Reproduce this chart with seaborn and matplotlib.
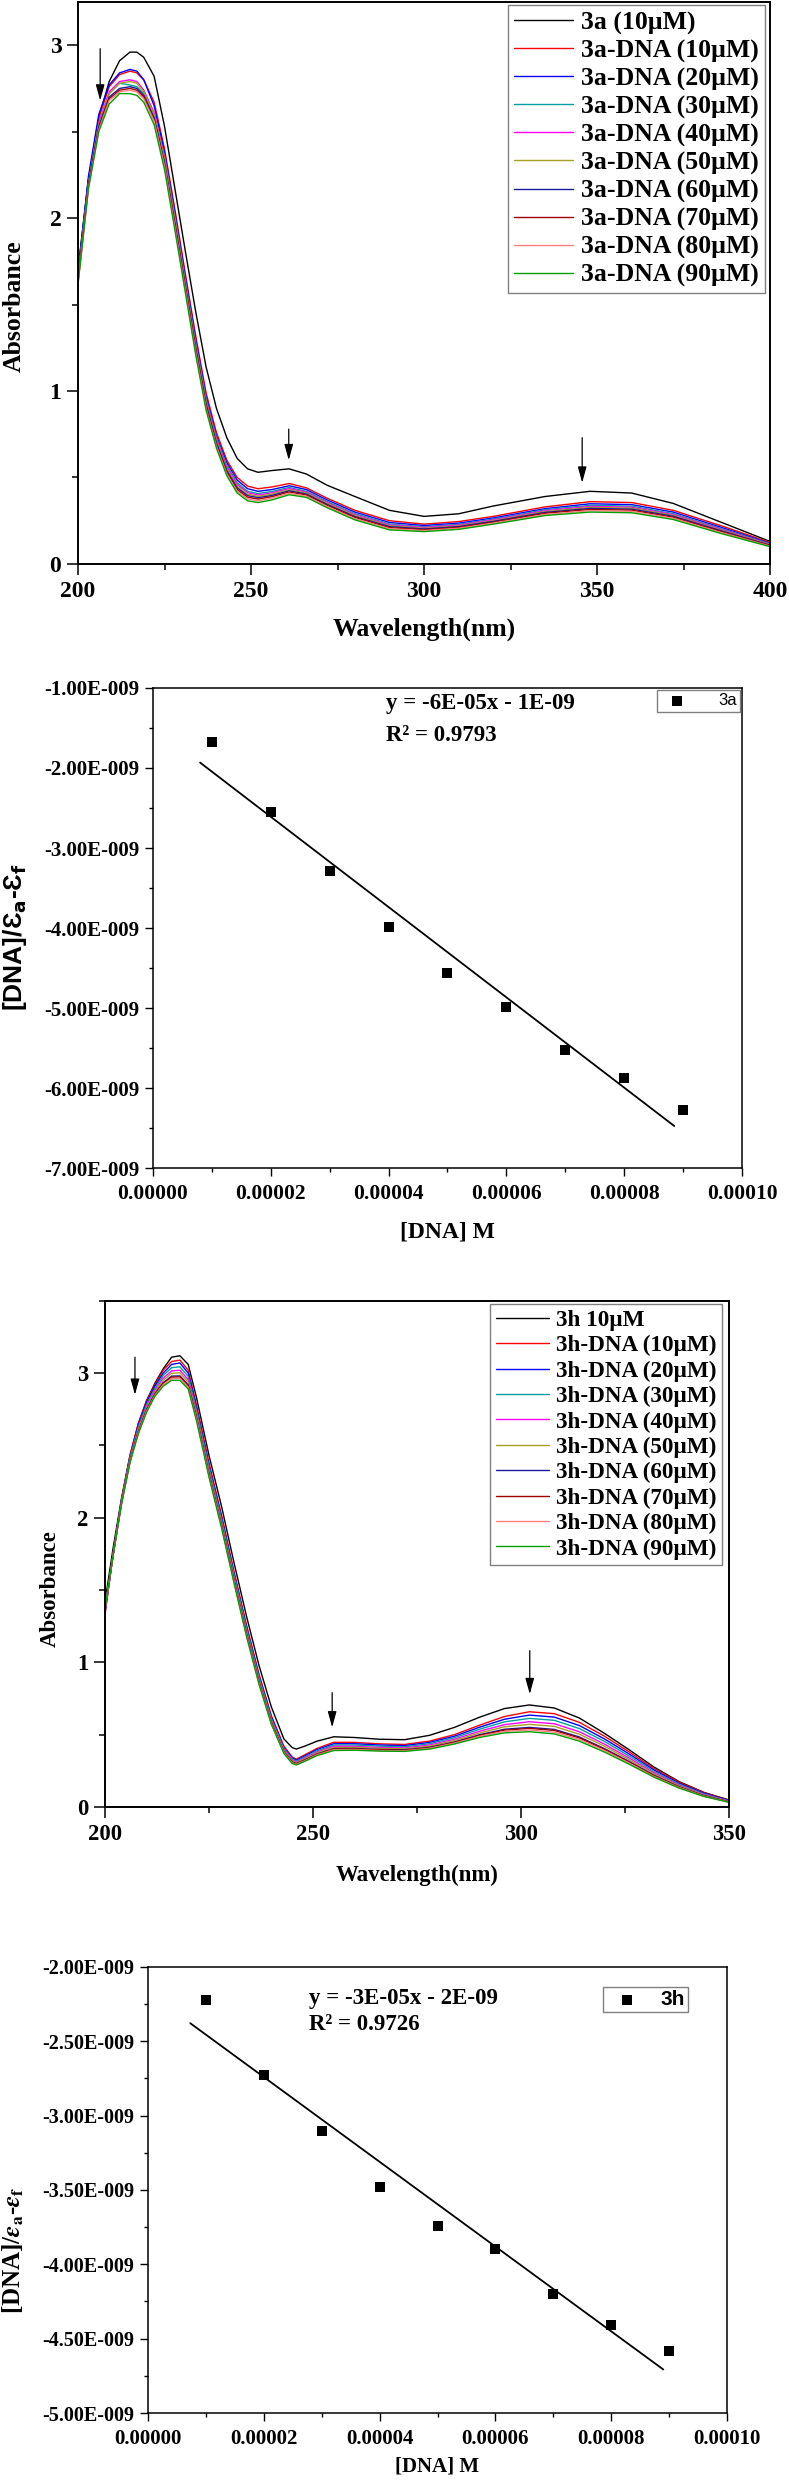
import numpy as np
import seaborn as sns
import matplotlib.pyplot as plt
from matplotlib.ticker import MultipleLocator, FuncFormatter

# ---- 3a titration spectra (absorbance) ----
wl_3a = [200, 203, 206, 209, 212, 215, 217, 219, 222, 225, 228, 231, 234, 237, 240, 243, 246,
         249, 252, 256, 261, 266, 272, 280, 290, 300, 310, 320, 335, 348, 360, 372, 386, 400]
a3_free = [1.70, 2.22, 2.58, 2.79, 2.91, 2.96, 2.96, 2.93, 2.82, 2.53, 2.17, 1.81, 1.46, 1.14, 0.90, 0.73, 0.61,
           0.55, 0.53, 0.54, 0.55, 0.52, 0.455, 0.39, 0.31, 0.275, 0.29, 0.335, 0.39, 0.42, 0.41, 0.35, 0.24, 0.13]
a3_dna10 = [1.68, 2.22, 2.58, 2.76, 2.83, 2.85, 2.84, 2.80, 2.67, 2.40, 2.05, 1.68, 1.32, 0.99, 0.76, 0.60, 0.50,
            0.45, 0.435, 0.445, 0.465, 0.44, 0.38, 0.31, 0.25, 0.23, 0.245, 0.275, 0.33, 0.36, 0.355, 0.31, 0.22, 0.124]
a3_dna20 = [1.69, 2.24, 2.60, 2.77, 2.84, 2.86, 2.85, 2.80, 2.65, 2.38, 2.03, 1.66, 1.30, 0.97, 0.74, 0.585, 0.485,
            0.435, 0.42, 0.43, 0.452, 0.43, 0.37, 0.30, 0.24, 0.222, 0.236, 0.266, 0.32, 0.348, 0.343, 0.30, 0.211, 0.119]
a3_dna30 = [1.66, 2.20, 2.55, 2.72, 2.78, 2.77, 2.76, 2.72, 2.60, 2.36, 2.01, 1.64, 1.28, 0.955, 0.73, 0.57, 0.47,
            0.42, 0.407, 0.419, 0.442, 0.42, 0.361, 0.291, 0.231, 0.215, 0.229, 0.259, 0.313, 0.339, 0.334, 0.291, 0.204, 0.116]
a3_dna40 = [1.65, 2.20, 2.55, 2.73, 2.79, 2.80, 2.79, 2.74, 2.61, 2.35, 2.00, 1.63, 1.27, 0.945, 0.72, 0.56, 0.46,
            0.412, 0.399, 0.411, 0.436, 0.415, 0.355, 0.285, 0.226, 0.211, 0.225, 0.255, 0.308, 0.333, 0.328, 0.286, 0.20, 0.113]
a3_dna50 = [1.65, 2.19, 2.54, 2.72, 2.78, 2.79, 2.78, 2.73, 2.60, 2.34, 1.99, 1.62, 1.26, 0.935, 0.71, 0.55, 0.45,
            0.403, 0.391, 0.404, 0.429, 0.41, 0.35, 0.28, 0.221, 0.206, 0.22, 0.25, 0.303, 0.327, 0.323, 0.281, 0.195, 0.111]
a3_dna60 = [1.64, 2.19, 2.53, 2.70, 2.75, 2.76, 2.75, 2.71, 2.58, 2.32, 1.97, 1.61, 1.25, 0.925, 0.70, 0.54, 0.44,
            0.395, 0.383, 0.396, 0.423, 0.404, 0.344, 0.274, 0.216, 0.202, 0.216, 0.246, 0.298, 0.321, 0.317, 0.276, 0.191, 0.108]
a3_dna70 = [1.63, 2.18, 2.52, 2.69, 2.74, 2.75, 2.74, 2.70, 2.57, 2.31, 1.96, 1.60, 1.24, 0.915, 0.69, 0.53, 0.43,
            0.386, 0.375, 0.389, 0.416, 0.399, 0.339, 0.269, 0.21, 0.198, 0.211, 0.241, 0.293, 0.315, 0.311, 0.27, 0.186, 0.106]
a3_dna80 = [1.62, 2.17, 2.51, 2.68, 2.73, 2.74, 2.73, 2.69, 2.56, 2.30, 1.945, 1.585, 1.225, 0.90, 0.68, 0.52, 0.42,
            0.376, 0.365, 0.38, 0.408, 0.392, 0.332, 0.262, 0.204, 0.193, 0.206, 0.236, 0.286, 0.308, 0.304, 0.264, 0.181, 0.103]
a3_dna90 = [1.62, 2.17, 2.50, 2.66, 2.72, 2.72, 2.71, 2.67, 2.54, 2.28, 1.93, 1.57, 1.21, 0.89, 0.67, 0.51, 0.41,
            0.365, 0.355, 0.37, 0.40, 0.385, 0.325, 0.255, 0.197, 0.187, 0.20, 0.23, 0.28, 0.30, 0.296, 0.257, 0.175, 0.10]
labels_3a = ["3a (10µM)", "3a-DNA (10µM)", "3a-DNA (20µM)", "3a-DNA (30µM)", "3a-DNA (40µM)",
             "3a-DNA (50µM)", "3a-DNA (60µM)", "3a-DNA (70µM)", "3a-DNA (80µM)", "3a-DNA (90µM)"]
arrows_3a = [(206.4, 2.98, 2.68), (260.9, 0.78, 0.60), (345.7, 0.73, 0.47)]

# ---- 3h titration spectra ----
wl_3h = [200, 202, 204, 206, 208, 210, 212, 214, 216, 218, 220, 222, 225, 228, 231, 234, 237, 240, 243, 245,
         246, 248, 251, 255, 260, 266, 272, 278, 284, 290, 296, 302, 308, 314, 320, 326, 332, 338, 344, 350]
h3_free = [1.42, 1.80, 2.14, 2.43, 2.65, 2.81, 2.93, 3.03, 3.11, 3.12, 3.06, 2.83, 2.43, 2.08, 1.69, 1.32, 0.98, 0.69, 0.47, 0.41,
           0.40, 0.42, 0.455, 0.485, 0.48, 0.468, 0.465, 0.495, 0.55, 0.62, 0.68, 0.705, 0.684, 0.615, 0.51, 0.395, 0.275, 0.175, 0.10, 0.048]
h3_dna10 = [1.33, 1.76, 2.13, 2.43, 2.65, 2.81, 2.92, 3.02, 3.08, 3.09, 3.02, 2.78, 2.38, 2.02, 1.63, 1.26, 0.92, 0.63, 0.42, 0.345,
            0.33, 0.36, 0.405, 0.447, 0.446, 0.436, 0.432, 0.455, 0.50, 0.565, 0.625, 0.658, 0.645, 0.585, 0.49, 0.38, 0.265, 0.17, 0.098, 0.045]
h3_dna20 = [1.34, 1.76, 2.125, 2.42, 2.64, 2.80, 2.91, 3.00, 3.06, 3.07, 3.00, 2.76, 2.36, 2.005, 1.616, 1.246, 0.908, 0.62, 0.41, 0.337,
            0.323, 0.352, 0.397, 0.437, 0.437, 0.428, 0.424, 0.446, 0.489, 0.551, 0.606, 0.635, 0.621, 0.563, 0.471, 0.366, 0.255, 0.163, 0.094, 0.043]
h3_dna30 = [1.35, 1.757, 2.12, 2.413, 2.627, 2.784, 2.894, 2.984, 3.037, 3.044, 2.977, 2.744, 2.347, 1.99, 1.604, 1.234, 0.897, 0.61, 0.404, 0.33,
            0.317, 0.345, 0.389, 0.428, 0.428, 0.42, 0.416, 0.437, 0.479, 0.537, 0.588, 0.612, 0.599, 0.542, 0.454, 0.352, 0.245, 0.157, 0.089, 0.041]
h3_dna40 = [1.355, 1.755, 2.115, 2.405, 2.615, 2.77, 2.88, 2.965, 3.015, 3.02, 2.955, 2.725, 2.33, 1.975, 1.59, 1.22, 0.885, 0.60, 0.395, 0.323,
            0.31, 0.338, 0.38, 0.419, 0.419, 0.411, 0.408, 0.428, 0.468, 0.523, 0.569, 0.589, 0.575, 0.52, 0.435, 0.338, 0.235, 0.15, 0.085, 0.039]
h3_dna50 = [1.36, 1.754, 2.111, 2.399, 2.606, 2.76, 2.87, 2.951, 2.998, 3.002, 2.938, 2.711, 2.317, 1.963, 1.58, 1.21, 0.876, 0.592, 0.388, 0.317,
            0.305, 0.332, 0.374, 0.411, 0.412, 0.405, 0.402, 0.42, 0.459, 0.511, 0.554, 0.571, 0.557, 0.503, 0.421, 0.326, 0.227, 0.145, 0.082, 0.037]
h3_dna60 = [1.37, 1.752, 2.107, 2.391, 2.595, 2.748, 2.858, 2.934, 2.979, 2.981, 2.919, 2.694, 2.302, 1.95, 1.568, 1.198, 0.865, 0.583, 0.381, 0.31,
            0.299, 0.325, 0.366, 0.403, 0.404, 0.397, 0.395, 0.412, 0.449, 0.499, 0.537, 0.55, 0.536, 0.484, 0.404, 0.314, 0.218, 0.139, 0.078, 0.035]
h3_dna70 = [1.37, 1.752, 2.105, 2.389, 2.592, 2.744, 2.854, 2.929, 2.972, 2.974, 2.912, 2.689, 2.297, 1.945, 1.564, 1.194, 0.862, 0.58, 0.379, 0.308,
            0.297, 0.323, 0.364, 0.40, 0.401, 0.395, 0.392, 0.409, 0.446, 0.494, 0.531, 0.543, 0.529, 0.477, 0.399, 0.309, 0.215, 0.137, 0.076, 0.034]
h3_dna80 = [1.375, 1.751, 2.103, 2.385, 2.586, 2.737, 2.847, 2.92, 2.962, 2.963, 2.902, 2.68, 2.289, 1.938, 1.557, 1.187, 0.856, 0.575, 0.375, 0.304,
            0.294, 0.319, 0.36, 0.396, 0.397, 0.39, 0.388, 0.405, 0.441, 0.488, 0.522, 0.532, 0.517, 0.467, 0.39, 0.303, 0.21, 0.134, 0.074, 0.033]
h3_dna90 = [1.38, 1.75, 2.10, 2.38, 2.58, 2.73, 2.84, 2.91, 2.95, 2.95, 2.89, 2.67, 2.28, 1.93, 1.55, 1.18, 0.85, 0.57, 0.37, 0.30,
            0.29, 0.315, 0.355, 0.39, 0.392, 0.386, 0.384, 0.40, 0.435, 0.48, 0.512, 0.52, 0.505, 0.455, 0.38, 0.295, 0.205, 0.13, 0.072, 0.032]
labels_3h = ["3h 10µM", "3h-DNA (10µM)", "3h-DNA (20µM)", "3h-DNA (30µM)", "3h-DNA (40µM)",
             "3h-DNA (50µM)", "3h-DNA (60µM)", "3h-DNA (70µM)", "3h-DNA (80µM)", "3h-DNA (90µM)"]
arrows_3h = [(207.2, 3.11, 2.85), (254.6, 0.79, 0.55), (302.1, 1.08, 0.78)]

series_colors = ["#000000", "#ff0000", "#0000ff", "#00a0a0", "#ff00ff",
                 "#a89f20", "#1a1a9a", "#a00000", "#ff8080", "#00a000"]

# ---- [DNA]/(ea-ef) vs [DNA] ----
dna_conc = [1e-5, 2e-5, 3e-5, 4e-5, 5e-5, 6e-5, 7e-5, 8e-5, 9e-5]
bh_3a = [-1.67e-9, -2.55e-9, -3.29e-9, -3.99e-9, -4.56e-9, -4.99e-9, -5.52e-9, -5.88e-9, -6.27e-9]
bh_3h = [-2.22e-9, -2.73e-9, -3.10e-9, -3.48e-9, -3.74e-9, -3.90e-9, -4.20e-9, -4.41e-9, -4.58e-9]
fit_span_3a = [0.8e-5, 8.85e-5]
fit_span_3h = [0.73e-5, 8.9e-5]

sns.set_theme(style="ticks")
plt.rcParams["font.family"] = ["Liberation Serif", "DejaVu Serif"]
plt.rcParams["font.weight"] = "bold"
plt.rcParams["axes.labelweight"] = "bold"
for k in ["axes.edgecolor", "xtick.color", "ytick.color", "text.color", "axes.labelcolor"]:
    plt.rcParams[k] = "black"

fig = plt.figure(figsize=(7.89, 24.81), dpi=100)
ax1 = fig.add_axes([0.0989, 0.7727, 0.8771, 0.2265])
ax2 = fig.add_axes([0.1939, 0.5292, 0.7465, 0.1935])
ax3 = fig.add_axes([0.1331, 0.2717, 0.7909, 0.2040])
ax4 = fig.add_axes([0.1876, 0.0274, 0.7338, 0.1798])


def spectra_panel(ax, wl, curves, labels, xlim, ylim, arrows, fs_tick, fs_lab, fs_leg, leg_anchor, lab_pos):
    for y, lab, col in zip(curves, labels, series_colors):
        sns.lineplot(x=wl, y=y, color=col, lw=1.0, label=lab, ax=ax, sort=False)
    ax.set_xlim(*xlim)
    ax.set_ylim(*ylim)
    ax.xaxis.set_major_locator(MultipleLocator(50))
    ax.xaxis.set_minor_locator(MultipleLocator(25))
    ax.yaxis.set_major_locator(MultipleLocator(1))
    ax.yaxis.set_minor_locator(MultipleLocator(0.5))
    ax.tick_params(which="major", direction="out", length=8, width=1.1, labelsize=fs_tick, pad=4)
    ax.tick_params(which="minor", direction="out", length=4, width=1.1)
    for s in ax.spines.values():
        s.set_linewidth(1.4)
    for x, y0, y1 in arrows:
        ax.annotate("", xy=(x, y1), xytext=(x, y0),
                    arrowprops=dict(arrowstyle="-|>,head_length=0.8,head_width=0.22", color="black",
                                    lw=0.9, shrinkA=0, shrinkB=0, mutation_scale=12))
    ax.set_xlabel("Wavelength(nm)", fontsize=fs_lab, va="center")
    ax.set_ylabel("Absorbance", fontsize=fs_lab, va="center", ha="center")
    ax.xaxis.set_label_coords(0.5, lab_pos[0])
    ax.yaxis.set_label_coords(lab_pos[1], lab_pos[2])
    leg = ax.legend(loc="upper right", bbox_to_anchor=leg_anchor, borderaxespad=0, fancybox=False,
                    edgecolor="#808080", framealpha=1, fontsize=fs_leg, handlelength=2.3,
                    handletextpad=0.3, labelspacing=0.18, borderpad=0.25)
    leg.get_frame().set_linewidth(1.0)


def sci_fmt(v, pos):
    mant, ex = f"{v:.2E}".split("E")
    return f"{mant}E{int(ex):04d}"


def fit_panel(ax, yvals, span, label, ylim, ystep, eq, r2, eq_pos, fs_ytick, fs_xtick, fs_xlab,
              ylab, ylab_kw, lab_pos, leg_kw):
    sns.scatterplot(x=dna_conc, y=yvals, marker="s", color="black", s=52, edgecolor="black",
                    linewidth=0, label=label, ax=ax, zorder=3)
    coef = np.polyfit(dna_conc, yvals, 1)
    fx = np.array(span)
    sns.lineplot(x=fx, y=np.polyval(coef, fx), color="black", lw=1.3, ax=ax)
    ax.set_xlim(0, 1e-4)
    ax.set_ylim(*ylim)
    ax.xaxis.set_major_locator(MultipleLocator(2e-5))
    ax.xaxis.set_minor_locator(MultipleLocator(1e-5))
    ax.yaxis.set_major_locator(MultipleLocator(ystep))
    ax.yaxis.set_minor_locator(MultipleLocator(ystep / 2))
    ax.xaxis.set_major_formatter(FuncFormatter(lambda v, p: f"{v:.5f}"))
    ax.yaxis.set_major_formatter(FuncFormatter(sci_fmt))
    ax.tick_params(which="major", direction="out", length=5.5, width=1.0, pad=4.5)
    ax.tick_params(which="minor", direction="out", length=3, width=1.0)
    ax.tick_params(axis="y", labelsize=fs_ytick)
    ax.tick_params(axis="x", labelsize=fs_xtick, pad=6)
    for s in ax.spines.values():
        s.set_linewidth(1.1)
    ax.text(eq_pos[0], eq_pos[1], eq, transform=ax.transAxes, fontsize=16.5, va="center", ha="left")
    ax.text(eq_pos[0], eq_pos[2], r2, transform=ax.transAxes, fontsize=16.5, va="center", ha="left")
    ax.set_xlabel("[DNA] M", fontsize=fs_xlab, va="center")
    ax.set_ylabel(ylab, va="center", ha="center", **ylab_kw)
    ax.xaxis.set_label_coords(0.5, lab_pos[0])
    ax.yaxis.set_label_coords(lab_pos[1], lab_pos[2])
    leg = ax.legend(loc="upper right", fancybox=False, edgecolor="#808080", framealpha=1,
                    borderaxespad=0, **leg_kw)
    leg.get_frame().set_linewidth(1.0)


spectra_panel(ax1, wl_3a,
              [a3_free, a3_dna10, a3_dna20, a3_dna30, a3_dna40, a3_dna50, a3_dna60, a3_dna70, a3_dna80, a3_dna90],
              labels_3a, (200, 400), (0, 3.25), arrows_3a, 17, 18.5, 18.5, (0.993, 0.995),
              (-0.117, -0.092, 0.459))

fit_panel(ax2, bh_3a, fit_span_3a, "3a", (-7e-9, -1e-9), 1e-9,
          "y = -6E-05x - 1E-09", "R² = 0.9793", (0.395, 0.967, 0.90), 15, 15.5, 17,
          "[DNA]/Ɛ$_\\mathbf{a}$-Ɛ$_\\mathbf{f}$",
          dict(fontsize=19, family=["Liberation Sans", "DejaVu Sans"], math_fontfamily="dejavusans"),
          (-0.133, -0.234, 0.481),
          dict(bbox_to_anchor=(0.997, 0.996), prop=dict(family="Liberation Sans", size=12, weight="normal"),
               handletextpad=1.5, borderpad=0.2, handlelength=2.0))

spectra_panel(ax3, wl_3h,
              [h3_free, h3_dna10, h3_dna20, h3_dna30, h3_dna40, h3_dna50, h3_dna60, h3_dna70, h3_dna80, h3_dna90],
              labels_3h, (200, 350), (0, 3.5), arrows_3h, 16.3, 16.5, 16.7, (0.989, 0.994),
              (-0.136, -0.088, 0.431))

fit_panel(ax4, bh_3h, fit_span_3h, "3h", (-5e-9, -2e-9), 0.5e-9,
          "y = -3E-05x - 2E-09", "R² = 0.9726", (0.278, 0.930, 0.871), 14.5, 15, 15,
          r"[DNA]/$\epsilon_\mathbf{a}$-$\epsilon_\mathbf{f}$",
          dict(fontsize=18, math_fontfamily="stix"),
          (-0.121, -0.233, 0.365),
          dict(bbox_to_anchor=(0.933, 0.955), prop=dict(family="Liberation Sans", size=15, weight="bold"),
               handletextpad=0.6, borderpad=0.15, handlelength=2.0))

fig.savefig("out.png", dpi=100)
